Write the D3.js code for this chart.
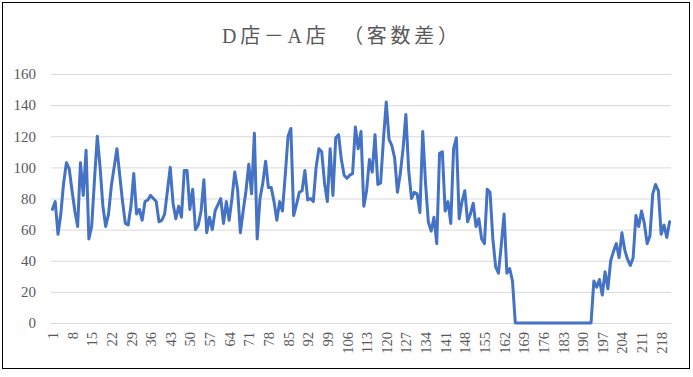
<!DOCTYPE html>
<html>
<head>
<meta charset="utf-8">
<script src="https://cdn.jsdelivr.net/npm/d3@7"></script>
<style>
  body { margin: 0; background: #fff; }
  svg { display: block; }
</style>
</head>
<body>
<div id="chart"></div>
<script>
// values
const chartTitle = "D店－A店　（客数差）";
const yTicks = [0, 20, 40, 60, 80, 100, 120, 140, 160];
const diffValues = [
  73, 78, 57, 70, 90, 103, 99, 85, 72, 62,
  103, 82, 111, 54, 62, 92, 120, 100, 75, 62,
  70, 88, 100, 112, 95, 78, 64, 63, 75, 96,
  70, 73, 66, 78, 79, 82, 80, 78, 65, 66,
  70, 85, 100, 77, 67, 75, 68, 98, 98, 73,
  86, 60, 63, 72, 92, 58, 68, 60, 72, 76,
  80, 64, 78, 66, 80, 97, 86, 58, 72, 85,
  102, 83, 122, 54, 80, 90, 104, 87, 87, 78,
  66, 78, 72, 95, 120, 125, 69, 76, 84, 85,
  98, 79, 80, 78, 100, 112, 110, 90, 78, 112,
  82, 119, 121, 105, 95, 93, 95, 96, 126, 112,
  123, 75, 85, 105, 97, 121, 89, 90, 118, 142,
  118, 114, 106, 84, 96, 112, 134, 98, 80, 84,
  83, 71, 123, 90, 65, 59, 68, 51, 109, 110,
  72, 78, 64, 112, 119, 67, 78, 85, 65, 70,
  77, 62, 67, 54, 51, 86, 84, 54, 36, 32,
  50, 70, 32, 35, 27, 0, 0, 0, 0, 0,
  0, 0, 0, 0, 0, 0, 0, 0, 0, 0,
  0, 0, 0, 0, 0, 0, 0, 0, 0, 0,
  0, 0, 0, 27, 23, 28, 18, 33, 22, 40,
  46, 51, 42, 58, 47, 41, 37, 42, 69, 62,
  72, 64, 51, 56, 83, 89, 85, 57, 63, 55,
  65
];
const days = diffValues.map((d, i) => i + 1);
const labelStep = 7;

const width = 693, height = 377;
const margin = { top: 74, right: 22, bottom: 54, left: 51 };
const innerW = width - margin.left - margin.right;
const innerH = height - margin.top - margin.bottom;

const svg = d3.select("#chart").append("svg")
  .attr("width", width)
  .attr("height", height);

// outer frame
svg.append("rect")
  .attr("x", 2.5).attr("y", 2.5)
  .attr("width", 687).attr("height", 366)
  .attr("fill", "#fff")
  .attr("stroke", "#000")
  .attr("stroke-width", 1);

svg.append("text")
  .attr("x", 222)
  .attr("y", 43)
  .attr("textLength", 236)
  .attr("lengthAdjust", "spacing")
  .style("font-family", "'Liberation Serif', 'Noto Sans CJK JP', serif")
  .style("font-size", "20px")
  .attr("fill", "#595959")
  .text(chartTitle);

const g = svg.append("g")
  .attr("transform", `translate(${margin.left},${margin.top})`);

const x = d3.scalePoint()
  .domain(days)
  .range([0, innerW])
  .padding(0.5);

const y = d3.scaleLinear()
  .domain([0, 160])
  .range([innerH, 0]);

// gridlines + y labels
const yAxis = g.append("g")
  .call(d3.axisLeft(y).tickValues(yTicks).tickSize(-innerW).tickPadding(15));
yAxis.select(".domain").remove();
yAxis.selectAll(".tick line").attr("stroke", "#d9d9d9").attr("stroke-width", 1);
yAxis.selectAll(".tick text")
  .attr("fill", "#595959")
  .style("font-family", "'Liberation Serif', serif")
  .style("font-size", "15px");

// x axis
const xAxis = g.append("g")
  .attr("transform", `translate(0,${innerH})`)
  .call(d3.axisBottom(x)
    .tickValues(days.filter(d => (d - 1) % labelStep === 0))
    .tickSize(0));
xAxis.select(".domain").attr("stroke", "#d9d9d9");
xAxis.selectAll(".tick text")
  .attr("fill", "#595959")
  .style("font-family", "'Liberation Serif', serif")
  .style("font-size", "14.5px")
  .attr("text-anchor", "end")
  .attr("transform", "rotate(-90)")
  .attr("dx", "-9")
  .attr("dy", "0.35em")
  .attr("x", 0)
  .attr("y", 0);

const line = d3.line()
  .x((d, i) => x(days[i]))
  .y(d => y(d));

g.append("path")
  .datum(diffValues)
  .attr("fill", "none")
  .attr("stroke", "#4472C4")
  .attr("stroke-width", 3)
  .attr("stroke-linejoin", "round")
  .attr("stroke-linecap", "round")
  .attr("d", line);
</script>
</body>
</html>
